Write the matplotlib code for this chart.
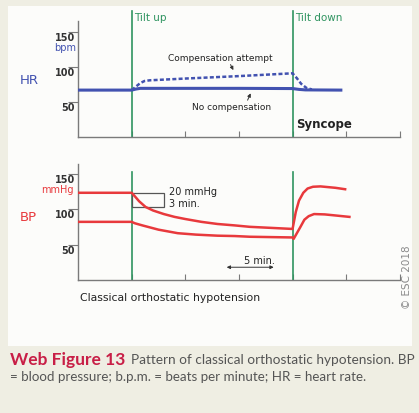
import matplotlib
matplotlib.use("Agg")
import matplotlib.pyplot as plt
from matplotlib.patches import Rectangle
from matplotlib.text import Annotation

# time axis in minutes
tilt_times = [5, 20]
tilt_labels = ["Tilt up", "Tilt down"]
x_ticks = [5, 10, 15, 20, 25, 30]
y_ticks = [50, 100, 150]

# heart rate (bpm)
hr_t_none = [0, 5, 5.4, 5.8, 10, 15, 20, 20.6, 21.2, 24.5]
hr_none = [67, 67, 68.5, 69.5, 69.5, 69.5, 69.2, 68, 67.3, 67]
hr_t_comp = [5, 5.4, 5.8, 6.2, 6.7, 10, 15, 20, 20.4, 20.8, 21.3, 21.8]
hr_comp = [67, 72, 77, 80, 81, 83.5, 87, 91, 84, 76, 70, 68]

# blood pressure (mmHg)
bp_t_sys = [0, 5, 5.3, 5.7, 6.3, 7, 8, 9, 10, 11.5, 13, 14.6, 16, 18, 20,
            20.3, 20.6, 21, 21.4, 21.9, 22.6, 24, 24.9]
bp_sys = [123, 123, 118, 111, 103, 98, 93, 89, 86, 82, 79, 77, 75, 73.5, 72,
          96, 112, 123, 129, 131.5, 132, 130, 128]
bp_t_dia = [0, 5, 5.3, 6, 6.5, 7.5, 9.3, 11, 13, 14.6, 16, 18, 20, 20.1,
            20.4, 20.7, 21.1, 21.5, 22, 23, 24, 25.3]
bp_dia = [82, 82, 80, 77, 75, 71, 66, 64, 62.5, 62, 61, 60.5, 60, 58,
          66, 74, 85, 90, 93, 92.5, 91, 89]

BG = "#efeee3"
BLUE = "#4252b0"
RED = "#e8393c"
GREEN = "#2f9460"
AXC = "#7a7a7a"

W, H = 419, 414
fig = plt.figure(figsize=(W / 100, H / 100), dpi=100, facecolor=BG)


def fx(px):
    return px / W


def fy(py):
    return 1 - py / H


# white panel behind the chart
fig.patches.append(Rectangle((fx(8), fy(347)), fx(404), 340 / H,
                             transform=fig.transFigure, facecolor="#fcfcfa",
                             edgecolor="none", zorder=-5))

ax_hr = fig.add_axes([fx(78), fy(138), fx(324), 126 / H])
ax_bp = fig.add_axes([fx(78), fy(281), fx(324), 117 / H])
ax_hr.set_ylim(0, 180)
ax_bp.set_ylim(0, 165)

for ax, top, gtop in [(ax_hr, 166, 180), (ax_bp, 163, 153)]:
    ax.set_zorder(2)
    ax.set_facecolor("none")
    ax.set_xlim(0, 30.2)
    for s in ["top", "right"]:
        ax.spines[s].set_visible(False)
    ax.spines["left"].set_bounds(0, top)
    ax.spines["bottom"].set_bounds(0, 30)
    for s in ["left", "bottom"]:
        ax.spines[s].set_color(AXC)
        ax.spines[s].set_linewidth(1.0)
    ax.set_xticks(x_ticks)
    ax.set_xticklabels([])
    ax.tick_params(axis="x", direction="in", length=4, color=AXC)
    ax.set_yticks(y_ticks)
    ax.tick_params(axis="y", direction="out", length=7, pad=-5, color=AXC,
                   labelsize=7, labelcolor="#333333")
    for lbl in ax.get_yticklabels():
        lbl.set_va("top")
        lbl.set_fontweight("bold")
    for t in tilt_times:
        ax.plot([t, t], [0, gtop], color=GREEN, lw=1.2, zorder=2, clip_on=False)

# HR panel
ax_hr.plot(hr_t_none, hr_none, color=BLUE, lw=2.2, zorder=3)
ax_hr.plot(hr_t_comp, hr_comp, color=BLUE, lw=1.8, ls=(0, (1.6, 0.9)), zorder=3)
for t, lab in zip(tilt_times, tilt_labels):
    ax_hr.text(t + 0.25, 171, lab, color=GREEN, fontsize=7.5, va="center")
ax_hr.text(13.3, 113, "Compensation attempt", fontsize=6.5, ha="center",
           va="center", color="#222222")
ax_hr.annotate("", xy=(14.6, 92), xytext=(14.1, 107),
               arrowprops=dict(arrowstyle="-|>", color="#333333", lw=0.7,
                               mutation_scale=5))
ax_hr.text(14.3, 43, "No compensation", fontsize=6.5, ha="center",
           va="center", color="#222222")
ax_hr.annotate("", xy=(16.2, 66), xytext=(15.7, 49),
               arrowprops=dict(arrowstyle="-|>", color="#333333", lw=0.7,
                               mutation_scale=5))
ax_hr.text(20.3, 19, "Syncope", fontsize=8.5, fontweight="bold",
           va="center", color="#222222")

# BP panel
ax_bp.plot(bp_t_sys, bp_sys, color=RED, lw=1.8, zorder=3)
ax_bp.plot(bp_t_dia, bp_dia, color=RED, lw=1.8, zorder=3)
ax_bp.add_patch(Rectangle((5, 103), 3, 20, fill=False, edgecolor="#555555",
                          lw=0.9, zorder=2))
ax_bp.text(8.5, 125, "20 mmHg", fontsize=7, va="center", color="#222222")
ax_bp.text(8.5, 108, "3 min.", fontsize=7, va="center", color="#222222")
ax_bp.annotate("", xy=(13.6, 18), xytext=(18.5, 18),
               arrowprops=dict(arrowstyle="<|-|>", color="#333333", lw=0.7,
                               mutation_scale=5))
ax_bp.text(16.9, 28, "5 min.", fontsize=7, ha="center", va="center",
           color="#222222")

# side labels
fig.text(fx(20), fy(81), "HR", color=BLUE, fontsize=9.5, va="center")
fig.text(fx(76), fy(48), "bpm", color=BLUE, fontsize=7, va="center", ha="right")
fig.text(fx(20), fy(218), "BP", color=RED, fontsize=9.5, va="center")
fig.text(fx(74), fy(190), "mmHg", color=RED, fontsize=7, va="center", ha="right")
fig.text(fx(80), fy(298), "Classical orthostatic hypotension", fontsize=7.8,
         va="center", color="#222222")
fig.text(fx(407), fy(277), "\u00a9 ESC 2018", fontsize=7.5, rotation=90,
         ha="center", va="center", color="#8a8a8a")

# caption
t1 = fig.text(fx(10), fy(360), "Web Figure 13", fontsize=12.5, fontweight="bold",
              family="Lato", color="#c81e46", va="center")
fig.add_artist(Annotation(
    "Pattern of classical orthostatic hypotension. BP", xy=(1, 0.5),
    xycoords=t1, xytext=(4, 0), textcoords="offset points", va="center",
    fontsize=9.8, family="Lato", color="#555555"))
fig.text(fx(10), fy(377),
         "= blood pressure; b.p.m. = beats per minute; HR = heart rate.",
         fontsize=9.6, family="Lato", color="#555555", va="center")

fig.savefig("out.png", dpi=100, facecolor=BG)
